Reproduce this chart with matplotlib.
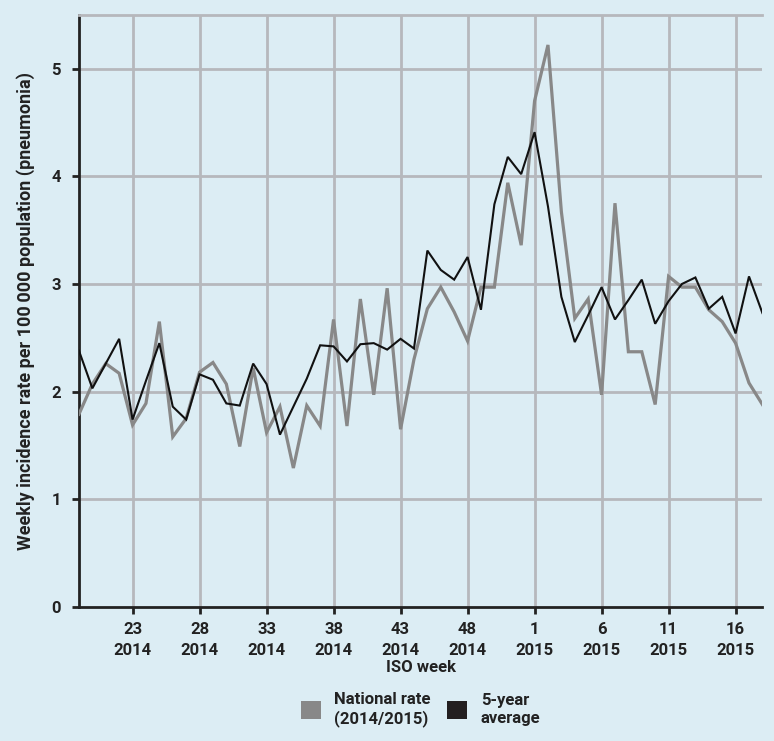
import matplotlib.pyplot as plt
from matplotlib.patches import Patch
import numpy as np

plt.rcParams['font.family'] = ['Roboto', 'DejaVu Sans']

# ISO weeks 19/2014 .. 18/2015
weeks = list(range(19, 53)) + list(range(1, 19))
years = [2014] * 34 + [2015] * 18

national = [1.79, 2.07, 2.26, 2.17, 1.69, 1.89, 2.65, 1.58, 1.75, 2.18,
            2.27, 2.07, 1.49, 2.22, 1.62, 1.86, 1.29, 1.87, 1.68, 2.67,
            1.68, 2.86, 1.97, 2.96, 1.65, 2.30, 2.77, 2.97, 2.74, 2.47,
            2.97, 2.97, 3.94, 3.36, 4.70, 5.22, 3.67, 2.68, 2.86, 1.97,
            3.75, 2.37, 2.37, 1.88, 3.07, 2.97, 2.97, 2.76, 2.65, 2.45,
            2.08, 1.88]
avg5 = [2.38, 2.03, 2.26, 2.49, 1.74, 2.10, 2.45, 1.86, 1.74, 2.16,
        2.11, 1.89, 1.87, 2.26, 2.07, 1.60, 1.86, 2.12, 2.43, 2.42,
        2.28, 2.44, 2.45, 2.39, 2.49, 2.40, 3.31, 3.13, 3.04, 3.25,
        2.76, 3.74, 4.18, 4.02, 4.41, 3.72, 2.88, 2.46, 2.71, 2.97,
        2.67, 2.85, 3.04, 2.63, 2.84, 3.00, 3.06, 2.77, 2.88, 2.54,
        3.07, 2.73]

label_weeks = [23, 28, 33, 38, 43, 48, 1, 6, 11, 16]

bg = '#dcedf4'
gridc = '#b6b8bc'
grey = '#888888'
black = '#111111'
txt = '#222222'
fs = 12

fig = plt.figure(figsize=(7.74, 7.41), dpi=100, facecolor=bg)
ax = fig.add_axes([0.102, 0.181, 0.883, 0.799])
ax.set_facecolor(bg)

x = np.arange(len(weeks))
ax.plot(x, national, color=grey, lw=2.3, zorder=3, solid_joinstyle='miter')
ax.plot(x, avg5, color=black, lw=1.5, zorder=4, solid_joinstyle='miter')

ticks = [i for i in x if weeks[i] in label_weeks]
ax.set_xticks(ticks)
ax.set_xticklabels([f"{weeks[i]}\n{years[i]}" for i in ticks])
ax.set_xlim(0, len(weeks) - 1)
ax.set_ylim(0, 5.5)
ax.set_yticks([0, 1, 2, 3, 4, 5])
for v in [1, 2, 3, 4, 5]:
    ax.axhline(v, color=gridc, lw=2, zorder=1)
for t in ticks:
    ax.axvline(t, color=gridc, lw=2, zorder=1)

ax.spines['right'].set_visible(False)
ax.spines['top'].set_color(gridc)
ax.spines['top'].set_linewidth(2)
for s in ['left', 'bottom']:
    ax.spines[s].set_linewidth(2)
    ax.spines[s].set_color(txt)
ax.tick_params(axis='both', length=5, width=2, color=txt, labelsize=fs,
               labelcolor=txt)
ax.tick_params(axis='x', pad=6)
ax.tick_params(axis='y', pad=8)
for lab in ax.get_xticklabels() + ax.get_yticklabels():
    lab.set_fontweight('bold')
    lab.set_linespacing(1.45)

ax.set_xlabel("ISO week", fontsize=fs, fontweight='bold', color=txt, labelpad=2)
ax.set_ylabel("Weekly incidence rate per 100\u2009000 population (pneumonia)",
              fontsize=13, fontweight='bold', color=txt, labelpad=12)

handles = [Patch(facecolor=grey, edgecolor='none'), Patch(facecolor='#231f20', edgecolor='none')]
leg = ax.legend(handles, ["National rate\n(2014/2015)", "5-year\naverage"], ncol=2,
                loc='upper center', bbox_to_anchor=(0.5, -0.13), frameon=False,
                prop={'size': fs, 'weight': 'bold'}, handlelength=1.2, handleheight=1.3,
                columnspacing=1.0, handletextpad=0.8, borderpad=0)
for t in leg.get_texts():
    t.set_color(txt)

fig.savefig("out.png", dpi=100, facecolor=bg)
